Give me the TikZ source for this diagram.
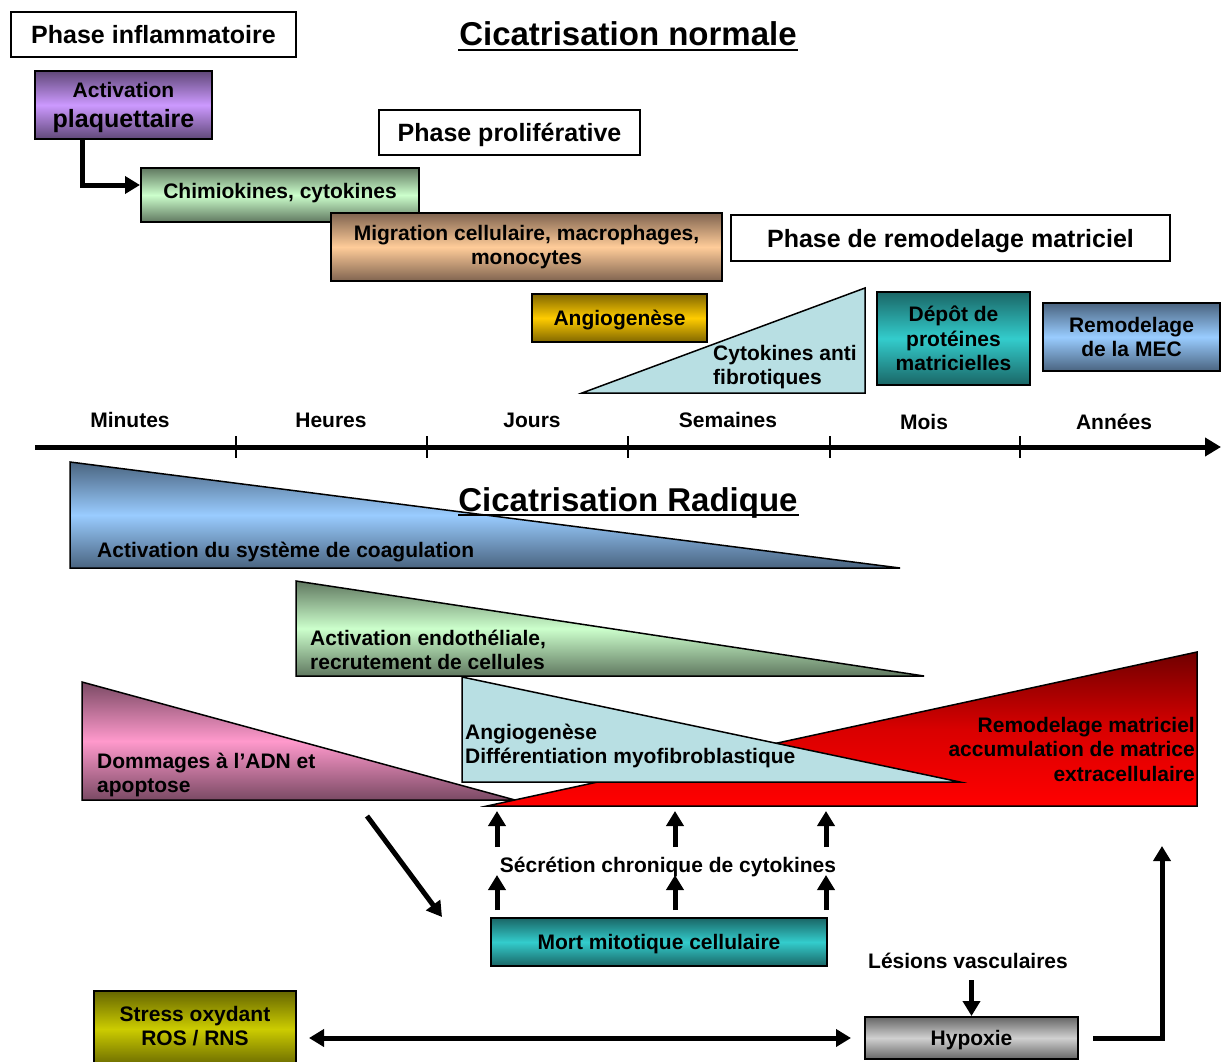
\documentclass[tikz,border=0pt]{standalone}
\usepackage{fontspec}
\setmainfont{Liberation Sans}
\usetikzlibrary{arrows.meta}
\definecolor{purpL}{HTML}{CC99FF}\definecolor{purpD}{HTML}{604878}
\definecolor{greenL}{HTML}{CCFFCC}\definecolor{greenD}{HTML}{607860}
\definecolor{orangeL}{HTML}{FFCC99}\definecolor{orangeD}{HTML}{806450}
\definecolor{goldL}{HTML}{FFCC00}\definecolor{goldD}{HTML}{806600}
\definecolor{tealL}{HTML}{33CCCC}\definecolor{tealD}{HTML}{1A6666}
\definecolor{blueL}{HTML}{99CCFF}\definecolor{blueD}{HTML}{4A6480}
\definecolor{pinkL}{HTML}{FF99CC}\definecolor{pinkD}{HTML}{7A4A64}
\definecolor{redL}{HTML}{FF0000}\definecolor{redD}{HTML}{700000}
\definecolor{grayL}{HTML}{D0D0D0}\definecolor{grayD}{HTML}{666666}
\definecolor{oliveL}{HTML}{CCCC00}\definecolor{oliveD}{HTML}{666600}
\definecolor{cyanF}{HTML}{B8DFE3}
\newcommand\bodyf{\fontsize{21}{24.5}\selectfont\bfseries}
\newcommand\phasef{\fontsize{25}{28}\selectfont\bfseries}
\newcommand\titlef{\fontsize{33}{36}\selectfont\bfseries}
\begin{document}
\begin{tikzpicture}[x=1pt,y=-1pt,
  phase/.style={draw, line width=2, fill=white, inner sep=0, font=\phasef, text height=18, text depth=0},
  gbox/.style={draw, line width=2, inner sep=0, align=center, font=\bodyf},
  lbl/.style={inner sep=0, font=\bodyf},
  tri/.style={draw, line width=1.5},
  grad/.style args={#1/#2}{top color=#2, bottom color=#2, middle color=#1},
  arr/.style={line width=5, -{Triangle[length=15, width=17]}},
  darr/.style={line width=5, {Triangle[length=15, width=17]}-{Triangle[length=15, width=17]}}]
\useasboundingbox (0,0) rectangle (1221,1062);

% ---- Cicatrisation normale ----
\node[inner sep=0, font=\titlef, anchor=base] (t1) at (628,46) {Cicatrisation normale};
\draw[line width=2.2] (458,50) -- (798,50);

\node[phase, minimum width=285, minimum height=45] (pinf) at (153.5,34.5) {Phase inflammatoire};
\node[phase, minimum width=261, minimum height=45] (ppro) at (509.5,132.5) {Phase proliférative};
\node[phase, minimum width=439, minimum height=46] (prem) at (950.5,238) {Phase de remodelage matriciel};

\node[gbox, grad=purpL/purpD, minimum width=177, minimum height=68, text depth=0] (act) at (123.5,105)
  {{\fontsize{21}{24}\selectfont Activation}\\[5pt]{\fontsize{25}{27}\selectfont plaquettaire}};
\node[gbox, grad=greenL/greenD, minimum width=278, minimum height=54, text depth=8] (chim) at (280,195) {Chimiokines, cytokines};
\node[gbox, grad=orangeL/orangeD, minimum width=391, minimum height=68] (mig) at (526.5,247)
  {Migration cellulaire, macrophages,\\monocytes};
\node[gbox, grad=goldL/goldD, minimum width=175, minimum height=48, text height=15, text depth=0] (angio) at (619.5,318) {Angiogenèse};
\node[gbox, grad=tealL/tealD, minimum width=153, minimum height=93] (depot) at (953.5,338.5)
  {Dépôt de\\protéines\\matricielles};
\node[gbox, grad=blueL/blueD, minimum width=177, minimum height=68] (mec) at (1131.5,337)
  {Remodelage\\de la MEC};

\draw[arr] ([xshift=-41.5]act.south) |- ([yshift=10]chim.west);

\draw[tri, fill=cyanF] (582,393) -- (865,288) -- (865,393) -- cycle;
\node[lbl, align=left, anchor=west] (cyto) at (713,367) {Cytokines anti\\fibrotiques};

% ---- time axis ----
\coordinate (ax0) at (35,447);
\coordinate (ax1) at (1221,447);
\draw[line width=5, -{Triangle[length=16, width=18]}] (ax0) -- (ax1);
\foreach \x in {236,427,628,830,1020} \draw[line width=2] (\x,436) -- (\x,458);
\node[lbl, anchor=mid] (m1) at (130,425) {Minutes};
\node[lbl, anchor=mid] (m2) at (331,425) {Heures};
\node[lbl, anchor=mid] (m3) at (532,425) {Jours};
\node[lbl, anchor=mid] (m4) at (728,425) {Semaines};
\node[lbl, anchor=mid] (m5) at (924,427) {Mois};
\node[lbl, anchor=mid] (m6) at (1114,427) {Années};

% ---- Cicatrisation radique ----
\draw[tri, grad=blueL/blueD] (70,462) -- (70,568) -- (900,568) -- cycle;
\node[inner sep=0, font=\titlef, anchor=base] (t2) at (628,511) {Cicatrisation Radique};
\draw[line width=2.2] (458,515) -- (799,515);
\node[lbl, anchor=west] (coag) at (97,552) {Activation du système de coagulation};

\draw[tri, grad=greenL/greenD] (296,581) -- (296,676) -- (924,676) -- cycle;
\node[lbl, align=left, anchor=west] (endo) at (310,650) {Activation endothéliale,\\recrutement de cellules};

\draw[tri, grad=pinkL/pinkD] (82,682) -- (82,800) -- (515,800) -- cycle;
\node[lbl, align=left, anchor=west] (adn) at (97,775) {Dommages à l’ADN et\\apoptose};

\draw[tri, top color=redD, bottom color=redL, middle color=red!85!black] (487,806) -- (1197,652) -- (1197,806) -- cycle;
\draw[tri, fill=cyanF] (462,677) -- (462,782) -- (960,782) -- cycle;
\node[lbl, align=left, anchor=west] (diff) at (465,746) {Angiogenèse\\Différentiation myofibroblastique};
\node[lbl, align=right, anchor=east] (remo) at (1195,749) {Remodelage matriciel\\accumulation de matrice\\extracellulaire};

% ---- bottom part ----
\node[gbox, grad=tealL/tealD, minimum width=336, minimum height=48, text height=15, text depth=0] (mort) at (659,942) {Mort mitotique cellulaire};
\node[lbl, anchor=mid] (sec) at (668,870) {Sécrétion chronique de cytokines};
\foreach \x [count=\i] in {497,675,826}{
  \coordinate (lo\i) at (\x,910); \coordinate (lt\i) at (\x,875);
  \coordinate (uo\i) at (\x,847); \coordinate (ut\i) at (\x,811);
  \draw[arr] (lo\i) -- (lt\i);
  \draw[arr] (uo\i) -- (ut\i);
}
\coordinate (dg0) at (367,816);
\coordinate (dg1) at (442,917);
\draw[arr] (dg0) -- (dg1);

\node[lbl, anchor=mid] (les) at (968,966) {Lésions vasculaires};
\node[gbox, grad=grayL/grayD, minimum width=213, minimum height=42, text height=15, text depth=0] (hyp) at (971.5,1038) {Hypoxie};
\node[gbox, grad=oliveL/oliveD, minimum width=202, minimum height=76, text depth=6] (stress) at (195,1029)
  {Stress oxydant\\ROS / RNS};
\coordinate (lesA) at (971.5,980);
\draw[arr] (lesA) -- (hyp.north);
\draw[darr] ([xshift=12]stress.east |- hyp.west) -- ([xshift=-13]hyp.west);
\coordinate (up) at (1162,846);
\draw[arr] ([xshift=14]hyp.east) -| (up);
\end{tikzpicture}
\end{document}
